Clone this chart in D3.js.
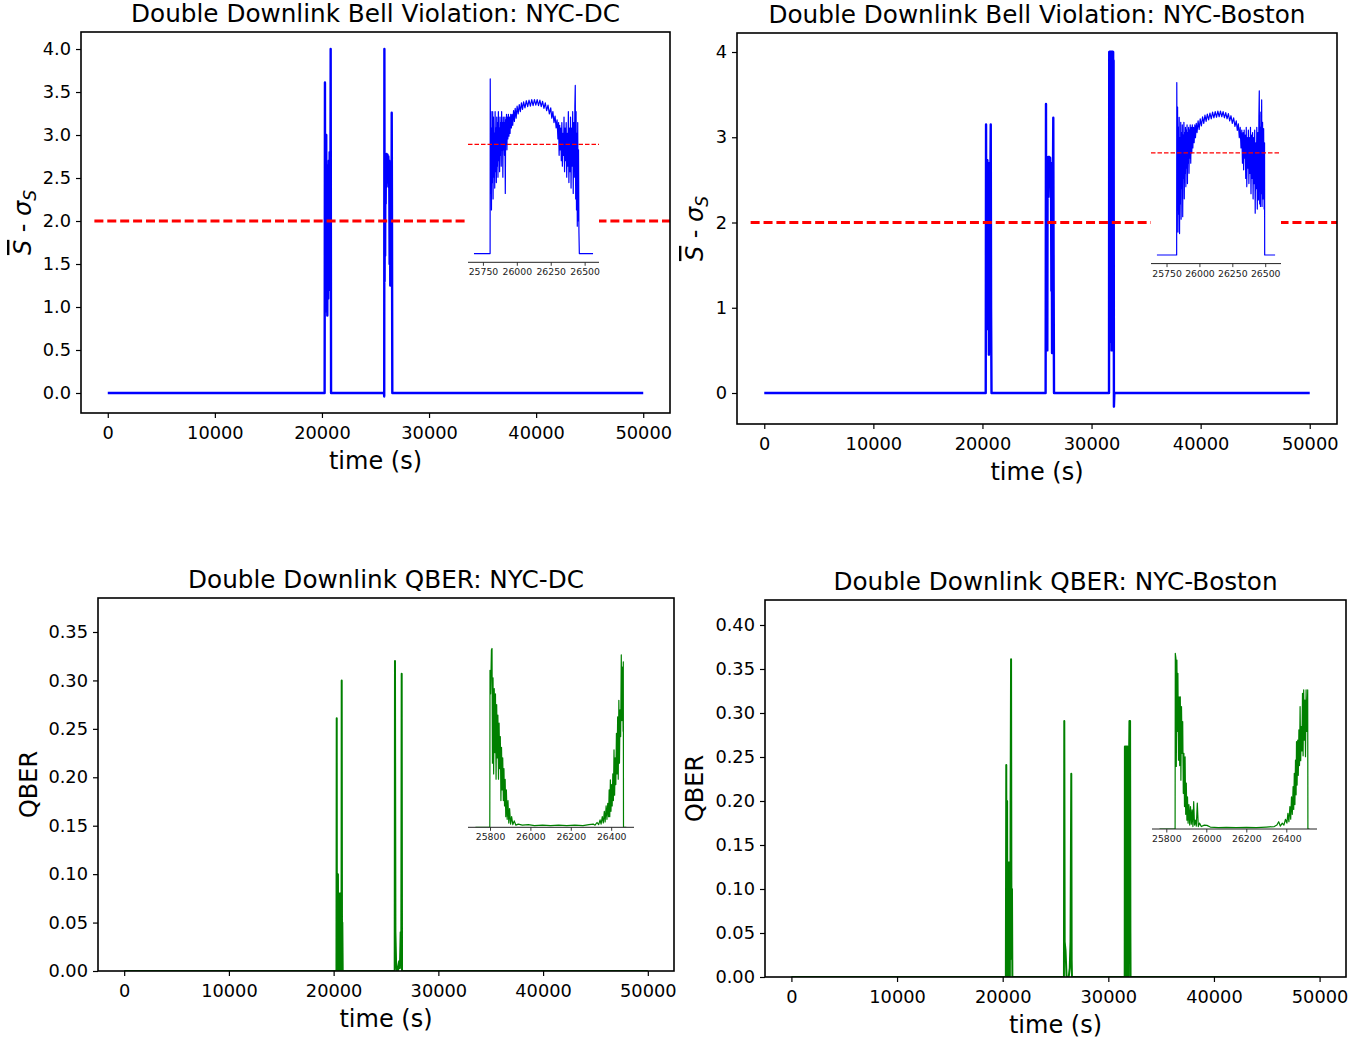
<!DOCTYPE html>
<html>
<head>
<meta charset="utf-8">
<script src="https://cdn.jsdelivr.net/npm/d3@7/dist/d3.min.js"></script>
<style>
  body { margin: 0; background: #fff; }
  svg text { font-family: "DejaVu Sans", sans-serif; }
</style>
</head>
<body>
<script>
// ---- data ----
const xTicks = [0, 10000, 20000, 30000, 40000, 50000];
const bellTicksDC = [0, 0.5, 1, 1.5, 2, 2.5, 3, 3.5, 4];
const bellTicksBoston = [0, 1, 2, 3, 4];
const qberTicksDC = [0, 0.05, 0.1, 0.15, 0.2, 0.25, 0.3, 0.35];
const qberTicksBoston = [0, 0.05, 0.1, 0.15, 0.2, 0.25, 0.3, 0.35, 0.4];
const insetTicksBell = [25750, 26000, 26250, 26500];
const insetTicksQber = [25800, 26000, 26200, 26400];
const bellThreshold = 2;
const thresholdSpan = [-1250, 52500];

const titles = [
  'Double Downlink Bell Violation: NYC-DC',
  'Double Downlink Bell Violation: NYC-Boston',
  'Double Downlink QBER: NYC-DC',
  'Double Downlink QBER: NYC-Boston'
];

// [time (s), value]
const bellDC = [[0,0],[20250,0],[20280,3.61],[20300,1.1],[20320,2.63],[20340,1.3],[20360,2.6],[20380,0.95],[20400,3.0],[20420,1.05],[20440,2.65],[20460,1.2],[20480,2.5],[20500,0.9],[20520,2.6],[20540,1.4],[20560,2.55],[20580,1.1],[20600,2.6],[20620,1.5],[20640,2.7],[20660,1.2],[20680,2.4],[20700,1.6],[20720,2.8],[20740,1.8],[20760,2.6],[20790,2.2],[20813,4.0],[20850,0],
  [25790,0],[25815,-0.04],[25830,4.0],[25850,1.3],[25875,2.78],[25900,1.6],[25925,2.7],[25950,2.2],[25975,2.75],[26000,2.4],[26040,2.78],[26080,2.5],[26120,2.77],[26160,2.45],[26200,2.75],[26240,2.4],[26280,2.7],[26320,1.5],[26350,2.6],[26380,1.25],[26410,2.5],[26440,1.8],[26470,2.6],[26490,1.4],[26514,3.26],[26540,2.0],[26570,0],[50000,0]];

const bellBoston = [[0,0],[20300,0],[20330,3.15],[20350,0.8],[20370,2.7],[20390,1.2],[20410,2.6],[20430,0.75],[20450,2.73],[20470,1.5],[20490,2.5],[20510,0.9],[20530,2.7],[20550,1.3],[20570,2.4],[20590,0.45],[20610,2.6],[20630,1.1],[20650,2.7],[20670,1.4],[20690,2.5],[20710,0.8],[20730,2.6],[20760,3.15],[20790,1.0],[20830,0],
  [25790,0],[25824,3.39],[25845,0.9],[25870,2.77],[25895,1.4],[25920,2.7],[25945,0.5],[25970,2.75],[26000,2.3],[26040,2.77],[26080,2.5],[26120,2.77],[26160,2.45],[26200,2.76],[26240,2.3],[26280,2.7],[26320,1.2],[26350,2.6],[26380,0.47],[26410,2.5],[26440,1.1],[26465,2.6],[26493,3.23],[26525,1.3],[26560,0],
  [31600,0],[31621,4.0],[31640,1.0],[31660,4.0],[31680,0.8],[31700,4.0],[31720,1.5],[31740,4.0],[31760,0.6],[31780,4.0],[31800,1.2],[31820,4.0],[31840,0.5],[31860,4.0],[31880,1.0],[31900,4.0],[31920,1.4],[31940,4.0],[31960,0.9],[31980,4.0],[32000,1.1],[32020,3.9],[32051,-0.16],[32090,0],[50000,0]];

const qberDC = [[0,0],[20270,0],[20294,0.261],[20310,0],[20330,0.08],[20350,0.02],[20370,0.075],[20390,0],[20410,0.1],[20430,0.03],[20450,0.07],[20470,0.01],[20490,0.08],[20510,0.02],[20530,0.075],[20550,0],[20570,0.08],[20590,0.03],[20610,0.06],[20630,0],[20650,0.08],[20670,0.02],[20690,0.07],[20710,0],[20730,0.06],[20750,0.01],[20770,0.30],[20800,0.02],[20830,0.05],[20866,0],
  [25830,0],[25858,0.32],[25900,0.04],[25960,0.01],[26050,0],[26150,0],[26250,0.01],[26330,0.003],[26400,0.04],[26460,0.03],[26498,0.307],[26530,0],[26590,0],[50000,0]];

const qberBoston = [[0,0],[20300,0],[20340,0.241],[20360,0.02],[20380,0.13],[20400,0],[20420,0.2],[20440,0.03],[20460,0.13],[20480,0.01],[20500,0.12],[20520,0],[20540,0.13],[20560,0.02],[20580,0.11],[20600,0],[20620,0.13],[20640,0.03],[20660,0.12],[20680,0],[20700,0.13],[20720,0.02],[20750,0.20],[20794,0.361],[20830,0.05],[20880,0.1],[20917,0],
  [25800,0],[25832,0.291],[25870,0.04],[25950,0.03],[26050,0],[26150,0],[26250,0],[26350,0.01],[26420,0.04],[26494,0.231],[26530,0.02],[26560,0],
  [31550,0],[31569,0.262],[31590,0],[31610,0.26],[31630,0.02],[31650,0.262],[31670,0],[31690,0.26],[31710,0.03],[31730,0.262],[31750,0],[31770,0.26],[31790,0.02],[31810,0.262],[31830,0],[31850,0.26],[31870,0.04],[31890,0.262],[31910,0],[31930,0.25],[31950,0.02],[31975,0.262],[32000,0.291],[32030,0.1],[32060,0.291],[32090,0.05],[32107,0],[50000,0]];

const bellInsetDC = [[25684,0],[25803,0],[25804,3.2],[25807,1.1],[25810,2.6],[25813,0.8],[25816,2.3],[25819,1.3],[25822,2.6],[25825,1.0],[25828,2.5],[25831,1.4],[25834,2.2],[25837,1.2],[25840,2.6],[25843,1.5],[25846,2.3],[25849,1.3],[25852,2.5],[25855,1.6],[25858,2.4],[25861,1.4],[25864,2.6],[25867,1.7],[25870,2.3],[25873,1.5],[25876,2.5],[25879,1.8],[25882,2.4],[25885,1.6],[25888,2.6],[25891,1.9],[25894,2.4],[25897,1.4],[25900,2.5],[25903,1.9],[25906,2.4],[25909,1.8],[25912,2.5],[25915,1.1],[25918,2.45],[25921,2.0],[25924,2.55],[25927,1.9],[25930,2.5],[25934,2.1],[25938,2.55],[25942,2.15],[25946,2.5],[25950,2.2],[25955,2.55],[25960,2.3],[25965,2.55],[25970,2.35],[25976,2.62],[25982,2.42],[25988,2.66],[25995,2.48],[26002,2.7],[26010,2.56],[26018,2.73],[26026,2.6],[26034,2.76],[26042,2.64],[26050,2.78],[26060,2.67],[26070,2.8],[26080,2.69],[26090,2.81],[26100,2.7],[26110,2.82],[26120,2.71],[26130,2.82],[26140,2.72],[26150,2.82],[26160,2.71],[26170,2.81],[26180,2.69],[26190,2.79],[26200,2.66],[26210,2.76],[26220,2.62],[26230,2.72],[26240,2.56],[26250,2.67],[26258,2.48],[26266,2.6],[26274,2.4],[26282,2.52],[26290,2.3],[26297,2.45],[26303,2.1],[26308,2.4],[26312,1.8],[26316,2.35],[26320,1.9],[26324,2.3],[26328,1.7],[26332,2.4],[26336,1.6],[26340,2.2],[26344,1.8],[26348,2.5],[26352,1.5],[26356,2.3],[26360,1.7],[26364,2.4],[26368,1.4],[26372,2.2],[26376,1.6],[26380,2.6],[26384,1.3],[26388,2.3],[26392,1.5],[26396,2.5],[26400,1.2],[26404,2.3],[26408,1.6],[26412,2.6],[26416,1.1],[26420,2.4],[26424,1.4],[26428,2.7],[26431,3.08],[26434,1.0],[26437,2.6],[26440,0.8],[26443,2.2],[26446,0.5],[26449,2.4],[26452,0.6],[26455,1.9],[26458,0.4],[26461,0],[26562,0]];

const bellInsetBoston = [[25677,0],[25827,0],[25828,3.38],[25831,1.2],[25834,2.9],[25837,0.45],[25840,2.5],[25843,0.8],[25846,2.7],[25849,0.42],[25852,2.3],[25855,1.0],[25858,2.6],[25861,0.7],[25864,2.4],[25867,1.3],[25870,2.55],[25873,0.75],[25876,2.35],[25879,1.5],[25882,2.6],[25885,1.1],[25888,2.4],[25891,1.6],[25894,2.5],[25897,1.34],[25900,2.45],[25903,1.7],[25906,2.55],[25909,1.4],[25912,2.4],[25915,1.8],[25918,2.5],[25921,1.6],[25924,2.45],[25927,1.9],[25930,2.55],[25934,1.8],[25938,2.5],[25942,2.0],[25946,2.55],[25950,2.1],[25955,2.5],[25960,2.2],[25965,2.55],[25970,2.3],[25976,2.58],[25982,2.4],[25990,2.63],[25998,2.46],[26006,2.67],[26015,2.53],[26024,2.71],[26033,2.58],[26042,2.74],[26051,2.62],[26060,2.76],[26070,2.65],[26080,2.78],[26090,2.67],[26100,2.8],[26110,2.69],[26120,2.81],[26130,2.7],[26140,2.82],[26150,2.71],[26160,2.82],[26170,2.71],[26180,2.81],[26190,2.69],[26200,2.79],[26210,2.67],[26220,2.77],[26230,2.63],[26240,2.73],[26250,2.58],[26260,2.69],[26270,2.52],[26280,2.63],[26288,2.44],[26296,2.57],[26303,2.3],[26310,2.5],[26316,2.1],[26322,2.45],[26327,1.8],[26332,2.4],[26336,1.67],[26340,2.45],[26344,1.9],[26348,2.35],[26352,1.5],[26356,2.5],[26360,1.34],[26364,2.3],[26368,1.7],[26372,2.45],[26376,1.4],[26380,2.3],[26384,1.6],[26388,2.5],[26392,1.2],[26396,2.35],[26400,1.5],[26404,2.4],[26408,1.1],[26412,2.3],[26416,1.4],[26420,2.45],[26424,0.82],[26428,2.2],[26432,1.3],[26436,2.5],[26440,0.9],[26444,2.4],[26448,1.08],[26452,2.7],[26455,3.22],[26458,1.0],[26461,2.5],[26464,0.95],[26467,2.8],[26470,1.2],[26473,3.04],[26476,0.95],[26480,2.6],[26484,1.1],[26488,2.48],[26492,0.9],[26495,2.2],[26496,0],[26575,0]];

const qberInsetDC = [[25728,0],[25799,0],[25800,0.294],[25803,0.25],[25807,0.332],[25810,0.335],[25812,0.12],[25815,0.28],[25818,0.1],[25821,0.26],[25824,0.14],[25827,0.25],[25830,0.09],[25833,0.23],[25836,0.13],[25839,0.21],[25842,0.09],[25845,0.195],[25848,0.11],[25851,0.17],[25854,0.05],[25857,0.15],[25860,0.07],[25863,0.13],[25866,0.05],[25869,0.11],[25872,0.04],[25875,0.09],[25878,0.02],[25881,0.07],[25885,0.015],[25889,0.05],[25893,0.008],[25897,0.035],[25902,0.006],[25907,0.02],[25913,0.005],[25920,0.012],[25928,0.004],[25940,0.006],[25960,0.004],[25990,0.005],[26020,0.003],[26060,0.004],[26100,0.003],[26140,0.004],[26180,0.003],[26220,0.004],[26260,0.003],[26290,0.005],[26311,0.006],[26320,0.004],[26330,0.009],[26338,0.005],[26345,0.014],[26350,0.006],[26356,0.02],[26361,0.008],[26366,0.03],[26370,0.01],[26375,0.04],[26379,0.015],[26383,0.045],[26387,0.02],[26390,0.07],[26393,0.02],[26396,0.089],[26399,0.03],[26402,0.08],[26405,0.04],[26408,0.1],[26411,0.05],[26414,0.145],[26417,0.06],[26420,0.13],[26423,0.08],[26426,0.176],[26429,0.1],[26432,0.207],[26435,0.09],[26438,0.238],[26441,0.12],[26444,0.22],[26447,0.17],[26450,0.323],[26453,0.2],[26456,0.3],[26459,0.18],[26460,0.31],[26461,0],[26475,0]];

const qberInsetBoston = [[25766,0],[25844,0],[25845,0.36],[25848,0.35],[25850,0.128],[25853,0.346],[25856,0.2],[25858,0.319],[25861,0.141],[25864,0.271],[25867,0.13],[25870,0.271],[25873,0.1],[25876,0.251],[25879,0.155],[25882,0.22],[25885,0.073],[25888,0.155],[25891,0.046],[25894,0.148],[25897,0.03],[25900,0.094],[25903,0.018],[25906,0.066],[25909,0.012],[25913,0.05],[25917,0.008],[25921,0.046],[25925,0.01],[25929,0.039],[25933,0.005],[25937,0.056],[25941,0.008],[25945,0.018],[25950,0.006],[25955,0.053],[25960,0.005],[25966,0.012],[25975,0.005],[25990,0.008],[26003,0.0075],[26020,0.004],[26060,0.003],[26100,0.0035],[26150,0.003],[26200,0.0035],[26250,0.003],[26300,0.004],[26340,0.005],[26353,0.008],[26362,0.015],[26370,0.006],[26380,0.012],[26388,0.008],[26396,0.02],[26403,0.012],[26408,0.032],[26413,0.015],[26418,0.046],[26422,0.02],[26426,0.066],[26430,0.03],[26434,0.087],[26437,0.04],[26440,0.114],[26443,0.05],[26446,0.141],[26449,0.07],[26451,0.179],[26454,0.09],[26457,0.182],[26460,0.11],[26463,0.203],[26466,0.13],[26469,0.251],[26472,0.14],[26475,0.21],[26478,0.16],[26481,0.278],[26484,0.15],[26487,0.285],[26490,0.182],[26493,0.264],[26496,0.148],[26499,0.285],[26503,0.2],[26507,0.285],[26508,0],[26516,0]];

window.onload = function () {

  const BLUE = '#0000ff';
  const GREEN = '#008000';
  const RED = '#ff0000';

  const SVG = d3.select('body')
                .append('svg')
                .attr('width', 1372)
                .attr('height', 1039);

  SVG.append('rect').attr('width', 1372).attr('height', 1039).attr('fill', '#fff');

  const panels = [
    {
      id: 1, left: 81, right: 670, top: 32, bottom: 413,
      yDomain: [-0.2326, 4.198], yTicks: bellTicksDC, yFmt: d3.format('.1f'),
      data: bellDC, color: BLUE, lw: 2.4, threshold: true, title: titles[0],
      ylabel: 'bell', ylabelX: 31,
      inset: { left: 468, right: 599, top: 69.6, bottom: 262.3,
               xDomain: [25640, 26606], yDomain: [-0.16, 3.37],
               ticks: insetTicksBell, data: bellInsetDC, threshold: true }
    },
    {
      id: 2, left: 737, right: 1337, top: 33, bottom: 424,
      yDomain: [-0.3636, 4.223], yTicks: bellTicksBoston, yFmt: d3.format('d'),
      data: bellBoston, color: BLUE, lw: 2.4, threshold: true, title: titles[1],
      ylabel: 'bell', ylabelX: 703,
      inset: { left: 1151, right: 1281, top: 73.9, bottom: 263.6,
               xDomain: [25632, 26620], yDomain: [-0.169, 3.55],
               ticks: insetTicksBell, data: bellInsetBoston, threshold: true }
    },
    {
      id: 3, left: 98, right: 674, top: 598, bottom: 971,
      yDomain: [0, 0.3851], yTicks: qberTicksDC, yFmt: d3.format('.2f'),
      data: qberDC, color: GREEN, lw: 2, threshold: false, title: titles[2],
      ylabel: 'QBER', ylabelX: 37,
      inset: { left: 468, right: 634, top: 639.4, bottom: 827.3,
               xDomain: [25691, 26513], yDomain: [0, 0.352],
               ticks: insetTicksQber, data: qberInsetDC, threshold: false }
    },
    {
      id: 4, left: 765, right: 1346, top: 600, bottom: 977,
      yDomain: [0, 0.4284], yTicks: qberTicksBoston, yFmt: d3.format('.2f'),
      data: qberBoston, color: GREEN, lw: 2, threshold: false, title: titles[3],
      ylabel: 'QBER', ylabelX: 703,
      inset: { left: 1152, right: 1317, top: 644.5, bottom: 829,
               xDomain: [25728.5, 26553.5], yDomain: [0, 0.378],
               ticks: insetTicksQber, data: qberInsetBoston, threshold: false }
    }
  ];

  function drawInset(p) {
    const ins = p.inset;
    const xScale = d3.scaleLinear().domain(ins.xDomain).range([ins.left, ins.right]);
    const yScale = d3.scaleLinear().domain(ins.yDomain).range([ins.bottom, ins.top]);

    SVG.append('rect')
       .attr('x', ins.left).attr('y', ins.top)
       .attr('width', ins.right - ins.left).attr('height', ins.bottom - ins.top)
       .attr('fill', '#fff');

    const clipId = 'inclip' + p.id;
    SVG.append('clipPath').attr('id', clipId).append('rect')
       .attr('x', ins.left).attr('y', ins.top)
       .attr('width', ins.right - ins.left).attr('height', ins.bottom - ins.top);

    const g = SVG.append('g').attr('clip-path', `url(#${clipId})`);

    g.append('path')
     .datum(ins.data)
     .attr('d', d3.line().x(d => xScale(d[0])).y(d => yScale(d[1])))
     .attr('fill', 'none')
     .attr('stroke', p.color)
     .attr('stroke-width', 1.2)
     .attr('stroke-linejoin', 'round');

    if (ins.threshold) {
      g.append('line')
       .attr('x1', ins.left).attr('x2', ins.right)
       .attr('y1', yScale(bellThreshold)).attr('y2', yScale(bellThreshold))
       .attr('stroke', RED)
       .attr('stroke-width', 1.3)
       .attr('stroke-dasharray', '4.5,2');
    }

    const axis = SVG.append('g')
                    .attr('transform', `translate(0,${ins.bottom})`)
                    .call(d3.axisBottom(xScale).tickValues(ins.ticks)
                            .tickSize(3.5).tickPadding(3).tickFormat(d3.format('d')));
    axis.select('.domain').remove();
    axis.selectAll('line').attr('stroke', '#222').attr('stroke-width', 0.9);
    axis.selectAll('text').attr('font-size', 9.3).attr('fill', '#222')
        .attr('font-family', '"DejaVu Sans", sans-serif');

    SVG.append('line')
       .attr('x1', ins.left).attr('x2', ins.right)
       .attr('y1', ins.bottom).attr('y2', ins.bottom)
       .attr('stroke', '#222').attr('stroke-width', 1);
  }

  function drawPanel(p) {
    const xScale = d3.scaleLinear().domain([-2500, 52500]).range([p.left, p.right]);
    const yScale = d3.scaleLinear().domain(p.yDomain).range([p.bottom, p.top]);

    const clipId = 'clip' + p.id;
    SVG.append('clipPath').attr('id', clipId).append('rect')
       .attr('x', p.left).attr('y', p.top)
       .attr('width', p.right - p.left).attr('height', p.bottom - p.top);

    const g = SVG.append('g').attr('clip-path', `url(#${clipId})`);

    g.append('path')
     .datum(p.data)
     .attr('d', d3.line().x(d => xScale(d[0])).y(d => yScale(d[1])))
     .attr('fill', 'none')
     .attr('stroke', p.color)
     .attr('stroke-width', p.lw)
     .attr('stroke-linejoin', 'round');

    if (p.threshold) {
      g.append('line')
       .attr('x1', xScale(thresholdSpan[0])).attr('x2', xScale(thresholdSpan[1]))
       .attr('y1', yScale(bellThreshold)).attr('y2', yScale(bellThreshold))
       .attr('stroke', RED)
       .attr('stroke-width', 3.2)
       .attr('stroke-dasharray', '9,3.9');
    }

    drawInset(p);

    SVG.append('rect')
       .attr('x', p.left).attr('y', p.top)
       .attr('width', p.right - p.left).attr('height', p.bottom - p.top)
       .attr('fill', 'none').attr('stroke', '#000').attr('stroke-width', 1.6);

    const xAxis = SVG.append('g')
                     .attr('transform', `translate(0,${p.bottom})`)
                     .call(d3.axisBottom(xScale).tickValues(xTicks)
                             .tickSize(5).tickPadding(8.5).tickFormat(d3.format('d')));
    const yAxis = SVG.append('g')
                     .attr('transform', `translate(${p.left},0)`)
                     .call(d3.axisLeft(yScale).tickValues(p.yTicks)
                             .tickSize(5).tickPadding(5).tickFormat(p.yFmt));

    [xAxis, yAxis].forEach(a => {
      a.select('.domain').remove();
      a.selectAll('line').attr('stroke', '#000').attr('stroke-width', 1.2);
      a.selectAll('text').attr('font-size', 17.8).attr('fill', '#000')
       .attr('font-family', '"DejaVu Sans", sans-serif');
    });

    const cx = (p.left + p.right) / 2;
    const cy = (p.top + p.bottom) / 2;

    SVG.append('text')
       .attr('x', cx).attr('y', p.top - 10.5)
       .attr('text-anchor', 'middle')
       .attr('font-size', 24.7)
       .text(p.title);

    SVG.append('text')
       .attr('x', cx).attr('y', p.bottom + 56)
       .attr('text-anchor', 'middle')
       .attr('font-size', 24)
       .text('time (s)');

    const yl = SVG.append('text')
                  .attr('transform', `translate(${p.ylabelX},${cy}) rotate(-90)`)
                  .attr('text-anchor', 'middle')
                  .attr('font-size', 24);
    if (p.ylabel === 'bell') {
      yl.append('tspan').attr('font-style', 'italic')
        .attr('text-decoration', 'overline').text('S');
      yl.append('tspan').text(' - ');
      yl.append('tspan').attr('font-style', 'italic').text('σ');
      yl.append('tspan').attr('font-style', 'italic')
        .attr('font-size', 17).attr('dy', 5).text('S');
    } else {
      yl.text(p.ylabel);
    }
  }

  panels.forEach(drawPanel);
}
</script>
</body>
</html>
